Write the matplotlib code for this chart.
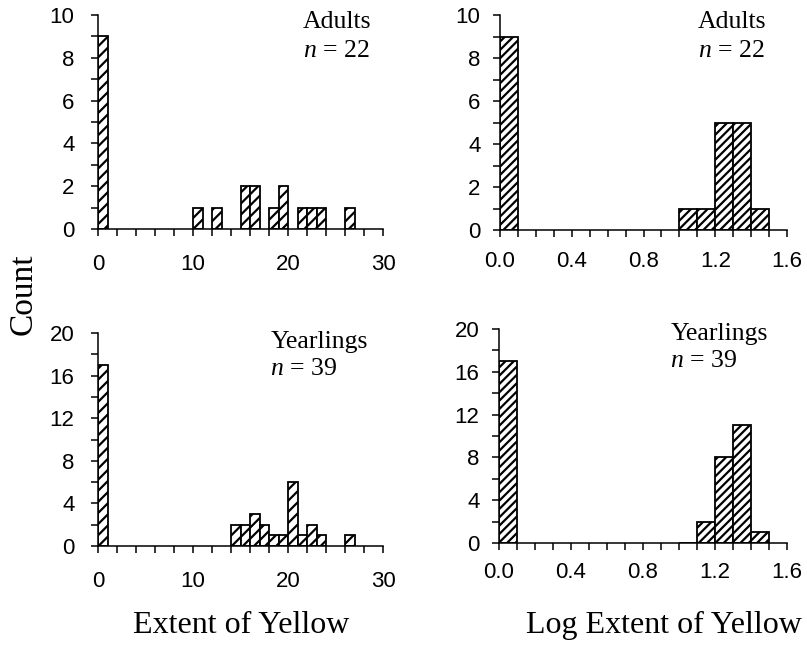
"""
Histograms of extent of yellow (raw and log) for adults and yearlings
"""

import matplotlib
matplotlib.use('Agg')
import matplotlib.pyplot as plt
from matplotlib.ticker import MultipleLocator, FormatStrFormatter

# --- data: bin left edges and counts (only non-empty bins) ---
adult_bins = [0, 10, 12, 15, 16, 18, 19, 21, 22, 23, 26]
adult_counts = [9, 1, 1, 2, 2, 1, 2, 1, 1, 1, 1]

yearling_bins = [0, 14, 15, 16, 17, 18, 19, 20, 21, 22, 23, 26]
yearling_counts = [17, 2, 2, 3, 2, 1, 1, 6, 1, 2, 1, 1]

log_bins = [0.0, 1.0, 1.1, 1.2, 1.3, 1.4]
adult_log_counts = [9, 1, 1, 5, 5, 1]
yearling_log_counts = [17, 0, 2, 8, 11, 1]

group_labels = ['Adults', 'Yearlings']
group_n = [22, 39]

plt.rcParams['hatch.linewidth'] = 1.6
plt.rcParams['mathtext.fontset'] = 'custom'
plt.rcParams['mathtext.it'] = 'Liberation Serif:italic'
plt.rcParams['mathtext.rm'] = 'Liberation Serif'

SANS = 'Liberation Sans'
SERIF = 'Liberation Serif'

fig = plt.figure(figsize=(8.07, 6.48), dpi=100)
W, H = 807, 648


def add_axes(x0, x1, ytop, ybot):
    return fig.add_axes([x0 / W, 1 - ybot / H, (x1 - x0) / W, (ybot - ytop) / H])


def style(ax, xmax, xmajor, xminor, ymax, ymajor, yminor, xfmt, xpad, ypad):
    ax.set_xlim(0, xmax)
    ax.set_ylim(0, ymax)
    for s in ['top', 'right']:
        ax.spines[s].set_visible(False)
    for s in ['left', 'bottom']:
        ax.spines[s].set_linewidth(1.1)
    ax.xaxis.set_major_locator(MultipleLocator(xmajor))
    ax.xaxis.set_minor_locator(MultipleLocator(xminor))
    ax.yaxis.set_major_locator(MultipleLocator(ymajor))
    ax.yaxis.set_minor_locator(MultipleLocator(yminor))
    ax.xaxis.set_major_formatter(FormatStrFormatter(xfmt))
    ax.tick_params(which='both', direction='out', length=5, width=1.1,
                   labelsize=16)
    ax.tick_params(axis='x', pad=xpad)
    ax.tick_params(axis='y', pad=ypad)
    for lab in ax.get_xticklabels() + ax.get_yticklabels():
        lab.set_family(SANS)


def draw_hist(ax, bins, counts, width, hatch):
    ax.bar(bins, counts, width=width, align='edge', color='white',
           edgecolor='black', linewidth=1.3, hatch=hatch, zorder=2)


def label(ax, x, y, gap, name, n):
    ax.text(x, y, name, transform=ax.transAxes, family=SERIF,
            fontsize=18.5, ha='left', va='baseline')
    ax.text(x, y - gap, '$n$ = %d' % n, transform=ax.transAxes,
            family=SERIF, fontsize=18.5, ha='left', va='baseline')


ax1 = add_axes(98, 383, 15, 229)
draw_hist(ax1, adult_bins, adult_counts, 1, '///')
style(ax1, 30, 10, 2, 10, 2, 1, '%d', 13, 12)
label(ax1, 0.72, (229 - 28) / 214, 29 / 214, group_labels[0], group_n[0])

ax2 = add_axes(500, 787, 15, 230)
draw_hist(ax2, log_bins, adult_log_counts, 0.1, '////')
style(ax2, 1.6, 0.4, 0.1, 10, 2, 1, '%.1f', 10, 9)
label(ax2, 0.69, (230 - 28) / 215, 29 / 215, group_labels[0], group_n[0])

ax3 = add_axes(98, 383, 333, 546)
draw_hist(ax3, yearling_bins, yearling_counts, 1, '///')
style(ax3, 30, 10, 2, 20, 4, 2, '%d', 13, 12)
label(ax3, 0.605, (546 - 348) / 213, 27 / 213, group_labels[1], group_n[1])

ax4 = add_axes(499, 787, 329, 543)
draw_hist(ax4, log_bins, yearling_log_counts, 0.1, '////')
style(ax4, 1.6, 0.4, 0.1, 20, 4, 2, '%.1f', 9, 9)
label(ax4, 0.595, (543 - 340) / 214, 27 / 214, group_labels[1], group_n[1])

fig.text(23 / W, 1 - 294 / H, 'Count', family=SERIF, fontsize=24,
         rotation=90, ha='center', va='center')
fig.text(241 / W, 1 - 633 / H, 'Extent of Yellow', family=SERIF,
         fontsize=23, ha='center', va='baseline')
fig.text(664 / W, 1 - 633 / H, 'Log Extent of Yellow', family=SERIF,
         fontsize=23, ha='center', va='baseline')

fig.savefig('out.png', dpi=100, facecolor='white')
